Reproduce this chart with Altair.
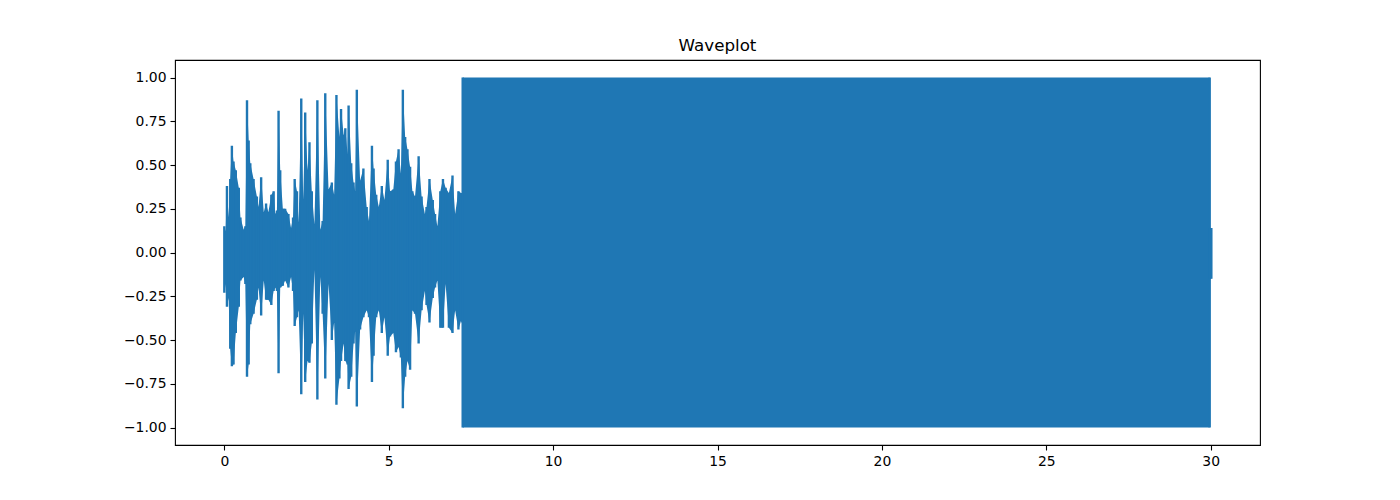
import altair as alt
import pandas as pd

# time (s), upper envelope, lower envelope read from the waveplot
t = [0.00, 0.04, 0.08, 0.13, 0.18, 0.23, 0.28, 0.35, 0.44, 0.49, 0.59, 0.64, 0.69, 0.74, 0.79,
     0.89, 0.99, 1.04, 1.12, 1.20, 1.27, 1.34, 1.43, 1.50, 1.55, 1.60, 1.65, 1.70, 1.78, 1.85,
     1.95, 2.03, 2.09, 2.14, 2.21, 2.26, 2.34, 2.40, 2.46, 2.53, 2.59, 2.66, 2.74, 2.83, 2.92,
     2.99, 3.07, 3.17, 3.27, 3.34, 3.41, 3.50, 3.55, 3.63, 3.68, 3.75, 3.78, 3.86, 3.93, 3.98,
     4.03, 4.13, 4.23, 4.33, 4.40, 4.49, 4.54, 4.62, 4.70, 4.79, 4.87, 4.97, 5.04, 5.14, 5.22,
     5.30, 5.37, 5.43, 5.50, 5.57, 5.65, 5.72, 5.80, 5.91, 6.00, 6.10, 6.15, 6.24, 6.34, 6.41,
     6.48, 6.57, 6.65, 6.73, 6.83, 6.94, 7.02, 7.12, 7.20, 7.24, 7.25, 29.97, 29.98, 30.02]
hi = [0.15, 0.12, 0.38, 0.20, 0.42, 0.61, 0.52, 0.47, 0.37, 0.20, 0.13, 0.15, 0.87, 0.64, 0.51,
      0.42, 0.32, 0.26, 0.43, 0.23, 0.28, 0.23, 0.33, 0.35, 0.22, 0.24, 0.81, 0.47, 0.25, 0.25,
      0.22, 0.14, 0.20, 0.42, 0.35, 0.17, 0.88, 0.30, 0.80, 0.47, 0.63, 0.35, 0.16, 0.87, 0.13,
      0.18, 0.91, 0.36, 0.40, 0.33, 0.90, 0.66, 0.82, 0.67, 0.71, 0.56, 0.84, 0.51, 0.40, 0.35,
      0.93, 0.41, 0.48, 0.26, 0.18, 0.61, 0.48, 0.33, 0.26, 0.38, 0.30, 0.53, 0.35, 0.36, 0.52,
      0.59, 0.45, 0.93, 0.66, 0.59, 0.49, 0.35, 0.32, 0.55, 0.32, 0.22, 0.26, 0.42, 0.30, 0.22,
      0.15, 0.35, 0.42, 0.37, 0.34, 0.44, 0.22, 0.35, 0.34, 0.34, 1.00, 1.00, 0.14, 0.14]
lo = [-0.23, -0.18, -0.31, -0.26, -0.55, -0.65, -0.64, -0.46, -0.31, -0.16, -0.14, -0.18, -0.71, -0.64, -0.41,
      -0.35, -0.27, -0.20, -0.36, -0.16, -0.27, -0.27, -0.30, -0.22, -0.20, -0.22, -0.69, -0.20, -0.19, -0.16,
      -0.20, -0.14, -0.22, -0.42, -0.37, -0.33, -0.81, -0.35, -0.74, -0.62, -0.63, -0.52, -0.10, -0.84, -0.14,
      -0.35, -0.72, -0.18, -0.50, -0.40, -0.87, -0.72, -0.62, -0.52, -0.62, -0.64, -0.78, -0.71, -0.52, -0.45,
      -0.88, -0.44, -0.37, -0.33, -0.37, -0.74, -0.59, -0.37, -0.33, -0.46, -0.37, -0.59, -0.48, -0.46, -0.57,
      -0.54, -0.60, -0.89, -0.71, -0.62, -0.67, -0.33, -0.35, -0.52, -0.33, -0.22, -0.30, -0.40, -0.26, -0.20,
      -0.16, -0.43, -0.43, -0.18, -0.43, -0.46, -0.33, -0.44, -0.39, -0.40, -1.00, -1.00, -0.15, -0.15]

x_ticks = [0, 5, 10, 15, 20, 25, 30]
y_ticks = [1.00, 0.75, 0.50, 0.25, 0.00, -0.25, -0.50, -0.75, -1.00]

df = pd.DataFrame({"t": t, "hi": hi, "lo": lo})

BLUE = "#1f77b4"
FONT = "DejaVu Sans"

xs = alt.Scale(domain=[-1.5, 31.5], nice=False, zero=False)
ys = alt.Scale(domain=[-1.1, 1.1], nice=False, zero=False)

xax = alt.Axis(values=x_ticks, format="d", title=None, grid=False, domain=False,
               tickSize=5, tickWidth=1.1, tickColor="black", labelPadding=4,
               labelFont=FONT, labelFontSize=13.9, labelColor="black")
yax = alt.Axis(values=y_ticks, format=".2f", title=None, grid=False, domain=False,
               tickSize=5, tickWidth=1.1, tickColor="black", labelPadding=4,
               labelFont=FONT, labelFontSize=13.9, labelColor="black")

base = alt.Chart(df)
area = base.mark_area(color=BLUE, opacity=1, interpolate="linear").encode(
    x=alt.X("t:Q", scale=xs, axis=xax),
    y=alt.Y("hi:Q", scale=ys, axis=yax),
    y2="lo:Q",
)
rules = base.mark_rule(color=BLUE, strokeWidth=2.4).encode(
    x=alt.X("t:Q", scale=xs),
    y=alt.Y("hi:Q", scale=ys),
    y2="lo:Q",
)

chart = (area + rules).properties(
    width=1085, height=385,
    title=alt.TitleParams("Waveplot", font=FONT, fontSize=16.7, fontWeight="normal",
                          color="black", anchor="middle", baseline="alphabetic", offset=-8),
    autosize=alt.AutoSizeParams(type="none"),
    padding={"left": 167, "top": 52, "right": 130, "bottom": 47},
).configure_view(stroke="black", strokeWidth=1.1)

chart.save("out.html", embed_options={"renderer": "svg", "actions": False})
